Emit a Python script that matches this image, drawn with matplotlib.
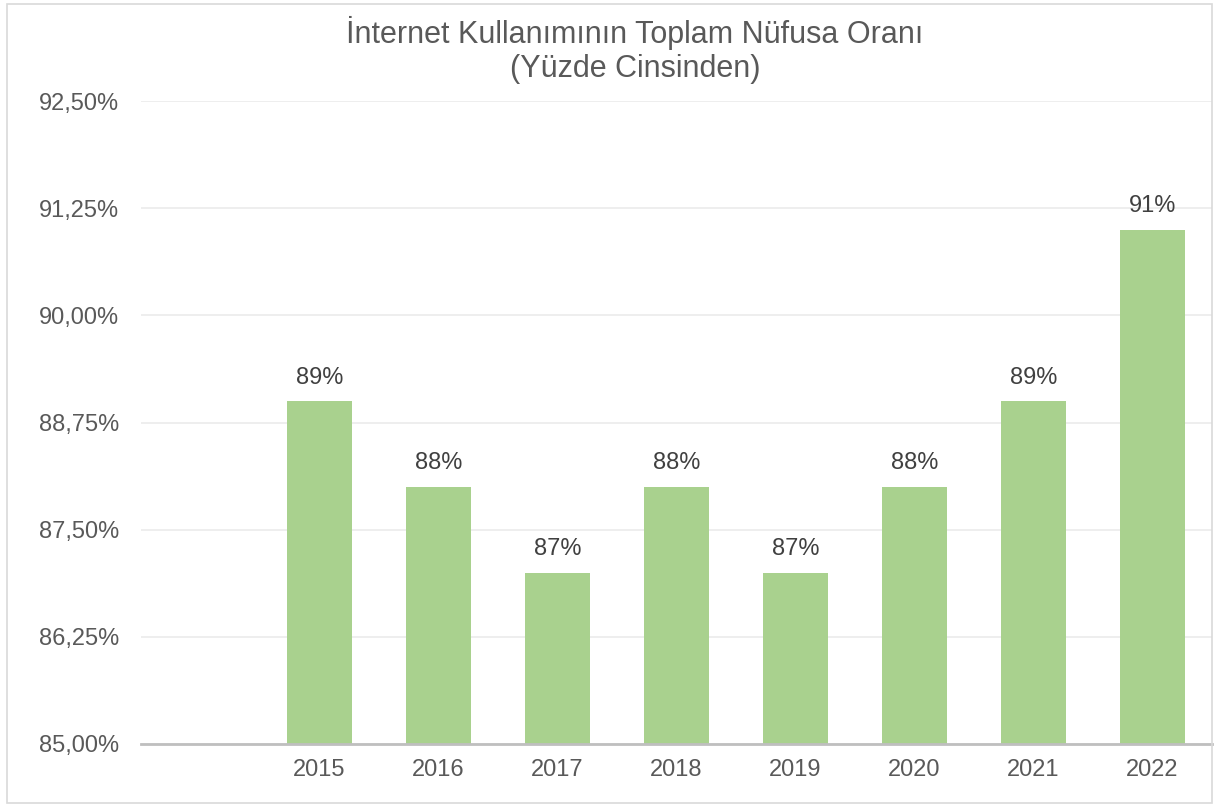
import numpy as np
import matplotlib.pyplot as plt
from matplotlib.patches import Rectangle

plt.rcParams['font.family'] = ['Liberation Sans', 'DejaVu Sans']

# Veriler
years = ["", "2015", "2016", "2017", "2018", "2019", "2020", "2021", "2022"]
values = [np.nan, 89, 88, 87, 88, 87, 88, 89, 91]
labels = ["", "89%", "88%", "87%", "88%", "87%", "88%", "89%", "91%"]
yticks = [85.0, 86.25, 87.5, 88.75, 90.0, 91.25, 92.5]

fig = plt.figure(figsize=(12.19, 8.05), dpi=100)
ax = fig.add_axes([0.1157, 0.0758, 0.8786, 0.7987])

# Çerçeve
fig.patches.append(Rectangle((0.006, 0.003), 0.988, 0.992, transform=fig.transFigure,
                             fill=False, edgecolor='#D9D9D9', linewidth=1.2))

x = np.arange(len(years))
bars = ax.bar(x, values, width=0.55, color='#A9D18E', zorder=3)

for xi, v, lab in zip(x, values, labels):
    if np.isnan(v):
        continue
    ax.annotate(lab, (xi, v), xytext=(0, 9), textcoords='offset points',
                ha='center', va='bottom', fontsize=17, color='#404040')

ax.set_ylim(85, 92.5)
ax.set_xlim(-0.5, len(years) - 0.5)
ax.set_yticks(yticks)
ax.set_yticklabels([f"{t:.2f}%".replace('.', ',') for t in yticks])
ax.set_xticks(x)
ax.set_xticklabels(years)
ax.tick_params(axis='both', length=0, labelsize=17, colors='#595959')
ax.tick_params(axis='y', pad=16)
ax.tick_params(axis='x', pad=11)

ax.grid(axis='y', color='#EDEDED', linewidth=1.3, zorder=0)
for s in ['top', 'right', 'left']:
    ax.spines[s].set_visible(False)
ax.spines['bottom'].set_color('#BFBFBF')
ax.spines['bottom'].set_linewidth(2)
ax.spines['bottom'].set_zorder(4)

fig.text(0.521, 0.938, "İnternet Kullanımının Toplam Nüfusa Oranı\n(Yüzde Cinsinden)",
         ha='center', va='center', fontsize=22, color='#595959', linespacing=1.2)

fig.savefig('out.png', dpi=100)
